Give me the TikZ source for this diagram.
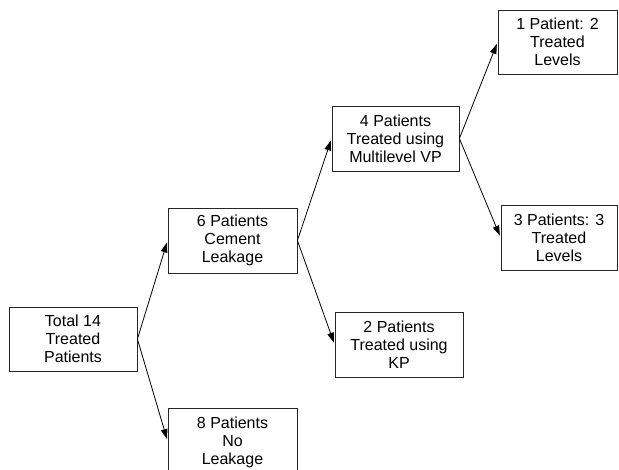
\documentclass[tikz,border=0pt]{standalone}
\usepackage{fontspec}
\setmainfont{Liberation Sans}
\usetikzlibrary{arrows.meta}
\begin{document}
\begin{tikzpicture}[x=1pt,y=-1pt,
  box/.style={draw=black!85,line width=0.8pt,align=center,inner sep=0pt,
    font=\fontsize{16}{18}\selectfont},
  conn/.style={draw=black,line width=0.8pt,-{Triangle[length=10pt,width=6.5pt]},shorten >=2pt}]
\useasboundingbox (0,0) rectangle (619,469);
\node[box,minimum width=128,minimum height=64] (A) at (73,339) {Total 14\\Treated\\Patients};
\node[box,minimum width=129,minimum height=65] (B) at (232.5,240.5) {6 Patients\\Cement\\Leakage};
\node[box,minimum width=129,minimum height=66,text depth=0pt] (C) at (232.5,441) {8 Patients\\No\\Leakage};
\node[box,minimum width=127,minimum height=65] (D) at (395.5,138.5) {4 Patients\\Treated using\\Multilevel VP};
\node[box,minimum width=128,minimum height=65] (E) at (399,344.5) {2 Patients\\Treated using\\KP};
\node[box,minimum width=119,minimum height=64] (F) at (557.5,42) {1 Patient: 2\\Treated\\Levels};
\node[box,minimum width=116,minimum height=65] (G) at (559,237.5) {3 Patients: 3\\Treated\\Levels};
\draw[conn] (A.east) -- (B.west);
\draw[conn] (A.east) -- (C.west);
\draw[conn] (B.east) -- (D.west);
\draw[conn] (B.east) -- (E.west);
\draw[conn] (D.east) -- (F.west);
\draw[conn] (D.east) -- (G.west);
\end{tikzpicture}
\end{document}
